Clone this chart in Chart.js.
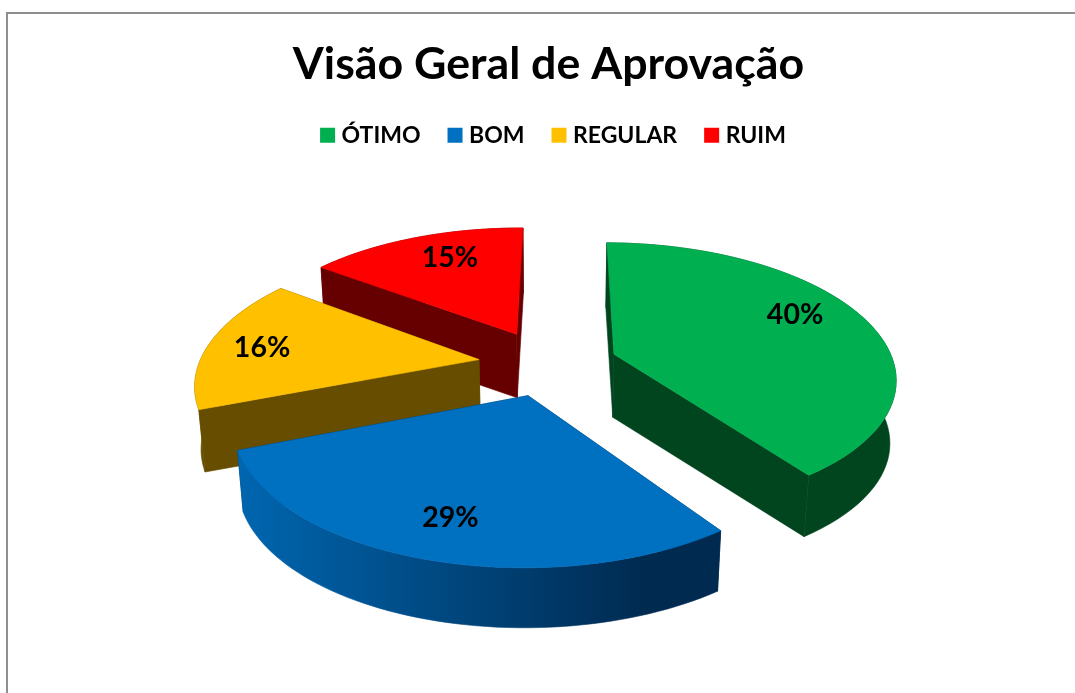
<!DOCTYPE html>
<html><head><meta charset="utf-8">
<style>
html,body{margin:0;padding:0;background:#fff;overflow:hidden}
#wrap{position:relative;width:1075px;height:693px}
#frame{position:absolute;left:6px;top:12px;right:0;bottom:0;border-left:2px solid #8f8f8f;border-top:2px solid #8f8f8f}
canvas{position:absolute;left:0;top:0}
</style>
<script src="https://cdn.jsdelivr.net/npm/chart.js@4"></script>
</head><body>
<div id="wrap"><div id="frame"></div><canvas id="c" width="1075" height="693"></canvas></div>
<script>
const titleText = 'Visão Geral de Aprovação';
const categories = ['ÓTIMO','BOM','REGULAR','RUIM'];
const values = [40,29,16,15];
const topColors = ['#00B050','#0070C0','#FFC000','#FF0000'];
const wallStart = ['#00451e','#0066b0','#664d00','#660000'];
const wallEnd = ['#00451e','#002a50','#664d00','#660000'];
const explodes = [0.25,0.24,0.25,0.26];
const paintOrder = [3,2,0,1];
const labelRadius = [0.77,0.78,0.80,0.75];
const labelShift = [-7,0,-1,4];

const FONT = 'Lato, Carlito, Calibri, sans-serif';
const view = {x0:548,y0:364,a:280,b:132.5,p:0.163,depth:63,shrinkX:0.982,shrinkY:0.985};

function project(u,v){
  const w = 1 + view.p*v;
  return {x:view.x0 + view.a*u/w, y:view.y0 - view.b*v/w};
}
function drop(pt){
  return {x:view.x0+(pt.x-view.x0)*view.shrinkX, y:view.y0+(pt.y-view.y0)*view.shrinkY+view.depth};
}
function path(ctx,pts){
  ctx.beginPath();
  pts.forEach((q,i)=> i?ctx.lineTo(q.x,q.y):ctx.moveTo(q.x,q.y));
  ctx.closePath();
}
function paint(ctx,pts,fill){
  path(ctx,pts);
  ctx.fillStyle=fill; ctx.strokeStyle=fill; ctx.lineWidth=0.6; ctx.lineJoin='round';
  ctx.fill(); ctx.stroke();
}
const pie3d = {
  id:'pie3d',
  afterLayout(chart){
    chart.legend.left += 7; chart.legend.right += 7;
  },
  beforeDatasetDraw(){ return false; },
  afterDatasetsDraw(chart){
    const ctx = chart.ctx, arcs = chart.getDatasetMeta(0).data;
    const geo = arcs.map((arc,i)=>{
      const {startAngle,endAngle} = arc.getProps(['startAngle','endAngle'],true);
      const s = startAngle+Math.PI/2, e = endAngle+Math.PI/2, m=(s+e)/2;
      const d = explodes[i];
      const cu = d*Math.sin(m), cv = d*Math.cos(m);
      const n = 60, rim=[];
      for(let k=0;k<=n;k++){
        const t = s+(e-s)*k/n;
        rim.push(project(cu+Math.sin(t),cv+Math.cos(t)));
      }
      return {cu,cv,m,apex:project(cu,cv),rim};
    });
    ctx.save();
    paintOrder.forEach(i=>{
      const g = geo[i], rim = g.rim;
      const xs = rim.map(q=>q.x);
      const grad = ctx.createLinearGradient(Math.min(...xs),0,Math.max(...xs),0);
      grad.addColorStop(0,wallStart[i]);
      grad.addColorStop(0.85,wallEnd[i]);
      grad.addColorStop(1,wallEnd[i]);
      const ring=[g.apex,...rim];
      paint(ctx,[g.apex,rim[0],drop(rim[0]),drop(g.apex)],wallEnd[i]);
      paint(ctx,[g.apex,rim[rim.length-1],drop(rim[rim.length-1]),drop(g.apex)],wallEnd[i]);
      paint(ctx,[...rim,...rim.slice().reverse().map(drop)],grad);
      paint(ctx,ring,topColors[i]);
    });
    ctx.fillStyle='#000';
    ctx.font='bold 28.5px '+FONT;
    ctx.textAlign='center'; ctx.textBaseline='middle';
    geo.forEach((g,i)=>{
      const t = g.m+labelShift[i]*Math.PI/180, r=labelRadius[i];
      const q = project(g.cu+r*Math.sin(t),g.cv+r*Math.cos(t));
      ctx.fillText(values[i]+'%',q.x,q.y);
    });
    ctx.restore();
  }
};
new Chart(document.getElementById('c'),{
  type:'pie',
  data:{labels:categories,datasets:[{data:values,backgroundColor:topColors,borderWidth:0}]},
  plugins:[pie3d],
  options:{
    responsive:false,animation:false,rotation:0.5,
    layout:{padding:{top:38,left:22}},
    plugins:{
      tooltip:{enabled:false},
      title:{display:true,text:titleText,color:'#000',font:{family:FONT,size:44.7,weight:'bold'},padding:{top:0,bottom:0}},
      legend:{display:true,position:'top',labels:{
        usePointStyle:true,pointStyle:'rect',boxWidth:5,boxHeight:15,padding:32,color:'#000',
        font:{family:FONT,size:23,weight:'bold'}
      }}
    }
  }
});
</script>
</body></html>
